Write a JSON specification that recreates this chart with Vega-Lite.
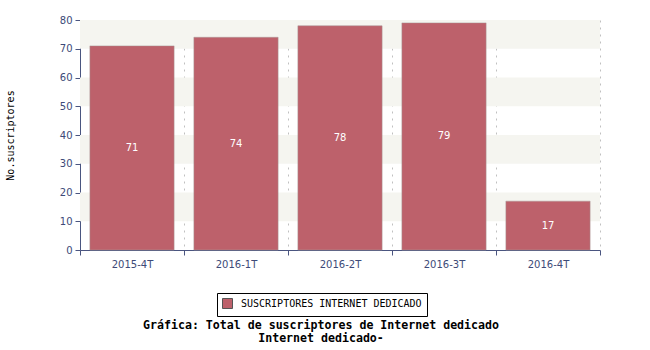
{
  "$schema": "https://vega.github.io/schema/vega-lite/v6.json",
  "width": 520,
  "height": 230,
  "autosize": {"type": "none"},
  "padding": {"left": 80, "top": 20, "right": 50, "bottom": 100},
  "background": "white",
  "config": {
    "view": {"stroke": null},
    "axisY": {
      "title": "No.suscriptores",
      "titleFont": "DejaVu Sans Mono",
      "titleFontSize": 10,
      "titleFontWeight": "normal",
      "titleColor": "black",
      "titleX": -70,
      "titleY": 115,
      "titleAngle": -90,
      "titleAlign": "center",
      "titleBaseline": "middle",
      "values": [0, 5, 10, 15, 20, 25, 30, 35, 40, 45, 50, 55, 60, 65, 70, 75, 80],
      "labelExpr": "datum.value % 10 === 0 ? datum.label : ''",
      "grid": true,
      "gridDash": [2, 5],
      "gridColor": "#c0c0c0",
      "gridOpacity": {"condition": {"test": "datum.value % 10 === 0", "value": 1}, "value": 0},
      "tickSize": {"condition": {"test": "datum.value % 10 === 0", "value": 5}, "value": 3},
      "domainColor": "#4a5580",
      "tickColor": "#4a5580",
      "labelColor": "#3d4a78",
      "labelFont": "DejaVu Sans",
      "labelFontSize": 10,
      "labelPadding": 3
    }
  },
  "title": {
    "text": ["Gráfica: Total de suscriptores de Internet dedicado", "Internet dedicado-"],
    "orient": "bottom",
    "anchor": "middle",
    "frame": "group",
    "dx": -19,
    "offset": 3,
    "font": "DejaVu Sans Mono",
    "fontSize": 11.6,
    "fontWeight": "bold",
    "color": "black",
    "lineHeight": 13
  },
  "datasets": {
    "bars": [
      {"periodo": "2015-4T", "valor": 71, "serie": "SUSCRIPTORES INTERNET DEDICADO"},
      {"periodo": "2016-1T", "valor": 74, "serie": "SUSCRIPTORES INTERNET DEDICADO"},
      {"periodo": "2016-2T", "valor": 78, "serie": "SUSCRIPTORES INTERNET DEDICADO"},
      {"periodo": "2016-3T", "valor": 79, "serie": "SUSCRIPTORES INTERNET DEDICADO"},
      {"periodo": "2016-4T", "valor": 17, "serie": "SUSCRIPTORES INTERNET DEDICADO"}
    ],
    "bands": [
      {"y0": 10, "y1": 20},
      {"y0": 30, "y1": 40},
      {"y0": 50, "y1": 60},
      {"y0": 70, "y1": 80}
    ]
  },
  "layer": [
    {
      "data": {"name": "bands"},
      "mark": {"type": "rect", "color": "#f5f5f0"},
      "encoding": {
        "y": {"field": "y0", "type": "quantitative", "scale": {"domain": [0, 80], "nice": false}, "title": "No.suscriptores"},
        "y2": {"field": "y1"}
      }
    },
    {
      "data": {"name": "bars"},
      "layer": [
        {
          "mark": {"type": "bar", "color": "#bd616b", "stroke": "#a89898", "strokeWidth": 0.5, "width": {"band": 0.81}},
          "encoding": {
            "x": {
              "field": "periodo", "type": "nominal", "sort": null,
              "scale": {"paddingInner": 0, "paddingOuter": 0},
              "axis": {
                "title": null,
                "labelAngle": 0,
                "tickBand": "extent",
                "grid": true,
                "gridDash": [2, 5],
                "gridColor": "#c0c0c0",
                "domainColor": "#4a5580",
                "tickColor": "#4a5580",
                "tickSize": 5,
                "labelColor": "#3d4a78",
                "labelFont": "DejaVu Sans",
                "labelFontSize": 10,
                "labelPadding": 4
              }
            },
            "y": {"field": "valor", "type": "quantitative", "title": "No.suscriptores"},
            "color": {
              "field": "serie", "type": "nominal",
              "scale": {"range": ["#bd616b"]},
              "legend": {
                "title": null,
                "orient": "none",
                "legendX": 137,
                "legendY": 273,
                "direction": "horizontal",
                "strokeColor": "black",
                "fillColor": "white",
                "padding": 5,
                "symbolType": "square",
                "symbolSize": 100,
                "symbolStrokeColor": "#555555",
                "symbolStrokeWidth": 1,
                "labelOffset": 8,
                "labelFont": "DejaVu Sans Mono",
                "labelFontSize": 10,
                "labelColor": "black",
                "labelLimit": 0
              }
            }
          }
        },
        {
          "mark": {"type": "text", "color": "white", "font": "DejaVu Sans", "fontSize": 10},
          "transform": [{"calculate": "datum.valor / 2", "as": "mid"}],
          "encoding": {
            "x": {"field": "periodo", "type": "nominal", "sort": null},
            "y": {"field": "mid", "type": "quantitative", "title": "No.suscriptores"},
            "text": {"field": "valor", "type": "quantitative"}
          }
        }
      ]
    }
  ]
}
